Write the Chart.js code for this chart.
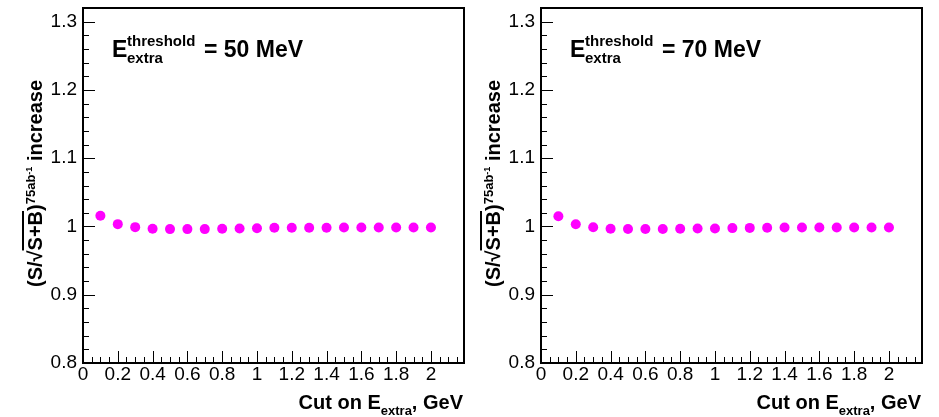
<!DOCTYPE html>
<html><head><meta charset="utf-8">
<script src="https://cdn.jsdelivr.net/npm/chart.js@4/dist/chart.umd.min.js"></script>
<style>
html,body{margin:0;padding:0;background:#fff;width:939px;height:417px;overflow:hidden;}
.panel{position:absolute;top:0;width:469px;height:417px;}
.panel canvas{position:absolute;left:0;top:0;}
.t{position:absolute;white-space:nowrap;font-family:"Liberation Sans",Arial,sans-serif;font-weight:bold;color:#000;}
</style></head><body>
<div class="panel" id="p0" style="left:0"></div>
<div class="panel" id="p1" style="left:458px"></div>
<script>
// ---- data ----
const cutValues = [0.1,0.2,0.3,0.4,0.5,0.6,0.7,0.8,0.9,1.0,1.1,1.2,1.3,1.4,1.5,1.6,1.7,1.8,1.9,2.0];
const ratio50MeV = [1.0157,1.0034,0.9990,0.9966,0.9961,0.9961,0.9961,0.9966,0.9971,0.9975,0.9980,0.9980,0.9980,0.9980,0.9985,0.9985,0.9985,0.9985,0.9985,0.9985];
const ratio70MeV = [1.0150,1.0032,0.9988,0.9966,0.9962,0.9962,0.9964,0.9966,0.9970,0.9971,0.9976,0.9979,0.9980,0.9984,0.9985,0.9985,0.9985,0.9985,0.9985,0.9985];
const thresholdLabels = ["50 MeV","70 MeV"];
const xTickValues = [0,0.2,0.4,0.6,0.8,1.0,1.2,1.4,1.6,1.8,2.0];
const yTickValues = [0.8,0.9,1.0,1.1,1.2,1.3];
const xRange = [0, 2.19];
const yRange = [0.8, 1.32];

const FONT = '"Liberation Sans", Arial, sans-serif';
const fmt = v => String(Number(Number(v).toFixed(2)));

const rootFrame = {
  id: 'rootFrame',
  afterDraw(chart) {
    const ctx = chart.ctx, a = chart.chartArea;
    const xs = chart.scales.x, ys = chart.scales.y;
    ctx.save();
    ctx.strokeStyle = '#000';
    ctx.lineWidth = 1;
    ctx.beginPath();
    for (let k = 0; ; k++) {
      const v = yRange[0] + k * 0.02;
      if (v > yRange[1] - 1e-9) break;
      const major = Math.abs(v * 10 - Math.round(v * 10)) < 1e-6;
      const py = Math.round(ys.getPixelForValue(v)) + 0.5;
      ctx.moveTo(a.left, py); ctx.lineTo(a.left + (major ? 12 : 6), py);
    }
    for (let k = 0; ; k++) {
      const v = xRange[0] + k * 0.05;
      if (v > xRange[1] - 1e-9) break;
      const major = Math.abs(v * 5 - Math.round(v * 5)) < 1e-6;
      const px = Math.round(xs.getPixelForValue(v)) + 0.5;
      ctx.moveTo(px, a.bottom); ctx.lineTo(px, a.bottom - (major ? 12 : 6));
    }
    ctx.stroke();
    ctx.lineWidth = 2;
    ctx.strokeRect(a.left, a.top, a.right - a.left, a.bottom - a.top);
    ctx.restore();
  }
};

function addText(panel, html, pos, size) {
  const d = document.createElement('div');
  d.className = 't';
  d.style.fontSize = size + 'px';
  d.style.lineHeight = size + 'px';
  d.style.top = (pos.baseline - 0.8465 * size) + 'px';
  if (pos.left !== undefined) d.style.left = pos.left + 'px';
  if (pos.right !== undefined) d.style.right = pos.right + 'px';
  d.innerHTML = html;
  panel.appendChild(d);
  return d;
}

function makePanel(id, values, label) {
  const panel = document.getElementById(id);
  const cv = document.createElement('canvas');
  cv.width = 469; cv.height = 417;
  cv.style.width = '469px'; cv.style.height = '417px';
  panel.appendChild(cv);
  new Chart(cv, {
    type: 'scatter',
    data: {
      datasets: [{
        data: cutValues.map((x, i) => ({ x: x, y: values[i] })),
        pointRadius: 5,
        pointBackgroundColor: '#ff00ff',
        pointBorderColor: '#ff00ff',
        pointBorderWidth: 0,
        showLine: false
      }]
    },
    options: {
      responsive: false, animation: false, devicePixelRatio: 1,
      layout: { padding: { left: 0, right: 3, top: 8, bottom: 0 } },
      plugins: { legend: { display: false }, tooltip: { enabled: false } },
      scales: {
        x: {
          type: 'linear', min: xRange[0], max: xRange[1],
          grid: { display: false, drawTicks: false }, border: { display: false },
          afterFit(s) { s.height = 54; s.paddingLeft = 0; s.paddingRight = 0; },
          afterBuildTicks(s) { s.ticks = xTickValues.map(v => ({ value: v })); },
          ticks: { font: { family: FONT, size: 19 }, color: '#000', padding: 0, maxRotation: 0, autoSkip: false, callback: v => fmt(v) }
        },
        y: {
          type: 'linear', min: yRange[0], max: yRange[1],
          grid: { display: false, drawTicks: false }, border: { display: false },
          afterFit(s) { s.width = 83; s.paddingTop = 0; s.paddingBottom = 0; },
          afterBuildTicks(s) { s.ticks = yTickValues.map(v => ({ value: v })); },
          ticks: { font: { family: FONT, size: 19 }, color: '#000', padding: 6, autoSkip: false, callback: v => fmt(v) }
        }
      }
    },
    plugins: [rootFrame]
  });

  addText(panel, 'E', { left: 112, baseline: 57 }, 23);
  addText(panel, 'threshold', { left: 127, baseline: 46 }, 15);
  addText(panel, 'extra', { left: 127, baseline: 63 }, 15);
  addText(panel, '= ' + label, { left: 204, baseline: 57 }, 23);

  addText(panel, 'Cut on E<span style="font-size:13px;position:relative;top:6px">extra</span>, GeV', { right: 6, baseline: 409 }, 20);

  const y = document.createElement('div');
  y.className = 't';
  y.style.fontSize = '20px';
  y.style.lineHeight = '20px';
  y.style.left = (42 - 0.8465 * 20) + 'px';
  y.style.top = '287px';
  y.style.transformOrigin = '0 0';
  y.style.transform = 'rotate(-90deg)';
  y.innerHTML = '(S/√<span style="text-decoration:overline;text-decoration-thickness:2px">S+B</span>)' +
    '<span style="font-size:13px;position:relative;top:-7px">75ab<span style="font-size:9px;position:relative;top:-3px">-1</span></span> increase';
  panel.appendChild(y);
}

makePanel('p0', ratio50MeV, thresholdLabels[0]);
makePanel('p1', ratio70MeV, thresholdLabels[1]);
</script>
</body></html>
